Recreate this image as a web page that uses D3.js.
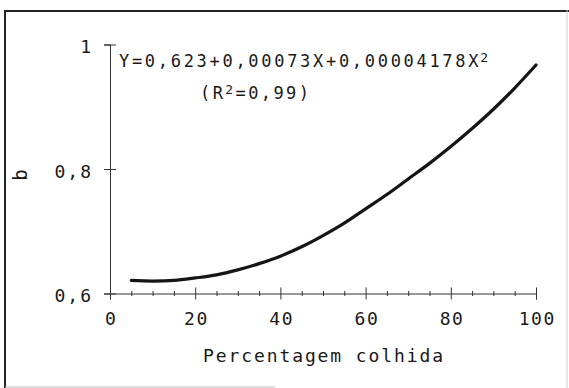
<!DOCTYPE html>
<html>
<head>
<meta charset="utf-8">
<script src="https://cdn.jsdelivr.net/npm/d3@7"></script>
<style>
  html, body { margin: 0; padding: 0; background: #fff; }
  svg { display: block; }
  text { font-family: "DejaVu Sans Mono", monospace; fill: #1a1a1a; }
</style>
</head>
<body>
<svg id="chart" width="569" height="388"></svg>
<script>
// ── data ─────────────────────────────────────────────────────────────────
const harvestPct = [5, 10, 15, 20, 25, 30, 35, 40, 45, 50, 55, 60, 65, 70, 75, 80, 85, 90, 95, 100];
const bValues    = [0.621, 0.620, 0.621, 0.625, 0.630, 0.638, 0.648, 0.660, 0.675, 0.693,
                    0.713, 0.736, 0.759, 0.784, 0.809, 0.836, 0.865, 0.896, 0.930, 0.967];

const xMajorTicks = [0, 20, 40, 60, 80, 100];
const xMinorTicks = [5, 10, 15, 25, 30, 35, 45, 50, 55, 65, 70, 75, 85, 90, 95];
const yTicks      = [0.6, 0.8, 1];
const yTickLabels = ['0,6', '0,8', '1'];

const equationText = 'Y=0,623+0,00073X+0,00004178X';
const r2Text       = '(R²=0,99)';
const xTitle       = 'Percentagem colhida';
const yTitle       = 'b';

// ─────────────────────────────────────────────────────────────────────────

const svg = d3.select('#chart');
const W = 569, H = 388;
const FONT = '"DejaVu Sans Mono", monospace';

const x = d3.scaleLinear().domain([0, 100]).range([110, 536]);
const y = d3.scaleLinear().domain([0.6, 1]).range([293.5, 44.5]);

// outer frame (scanned figure border)
const frame = svg.append('g');
frame.append('line').attr('x1', 4).attr('x2', W).attr('y1', 11).attr('y2', 11)
  .attr('stroke', '#222').attr('stroke-width', 2);
frame.append('line').attr('x1', 5).attr('x2', 5).attr('y1', 10).attr('y2', H)
  .attr('stroke', '#222').attr('stroke-width', 2);
frame.append('line').attr('x1', 567).attr('x2', 567).attr('y1', 10).attr('y2', H)
  .attr('stroke', '#ccc').attr('stroke-width', 1);
frame.append('line').attr('x1', 5).attr('x2', 275).attr('y1', 387).attr('y2', 387)
  .attr('stroke', '#bbb').attr('stroke-width', 1);

// x axis
const xAxisG = svg.append('g')
  .attr('transform', `translate(0,${y(0.6)})`)
  .call(d3.axisBottom(x).tickValues(xMajorTicks).tickSizeOuter(0).tickSize(6).tickPadding(13)
    .tickFormat(d3.format('d')));
xAxisG.select('.domain').attr('stroke', '#333');
xAxisG.selectAll('.tick line').attr('y1', -6).attr('y2', 6).attr('stroke', '#333');
xAxisG.selectAll('.tick text')
  .attr('font-size', 18).attr('letter-spacing', 1.6).attr('dx', 0.8)
  .attr('font-family', FONT).attr('fill', '#1a1a1a');

const xMinorG = svg.append('g')
  .attr('transform', `translate(0,${y(0.6)})`)
  .call(d3.axisBottom(x).tickValues(xMinorTicks).tickSizeOuter(0).tickFormat(''));
xMinorG.select('.domain').remove();
xMinorG.selectAll('.tick line').attr('y1', -2.5).attr('y2', 2.5).attr('stroke', '#333');

// y axis
const yAxisG = svg.append('g')
  .attr('transform', `translate(${x(0)},0)`)
  .call(d3.axisLeft(y).tickValues(yTicks).tickSizeOuter(0).tickSize(6).tickPadding(11)
    .tickFormat((d, i) => yTickLabels[i]));
yAxisG.select('.domain').attr('stroke', '#333');
yAxisG.selectAll('.tick line').attr('x1', -6).attr('x2', 6).attr('stroke', '#333');
yAxisG.selectAll('.tick text')
  .attr('font-size', 18).attr('letter-spacing', 2).attr('dy', '0.45em')
  .attr('font-family', FONT).attr('fill', '#1a1a1a');

// fitted curve
const line = d3.line()
  .x((d, i) => x(harvestPct[i]))
  .y(d => y(d))
  .curve(d3.curveCatmullRom);

svg.append('path')
  .datum(bValues)
  .attr('d', line)
  .attr('fill', 'none')
  .attr('stroke', '#151515')
  .attr('stroke-width', 3.2)
  .attr('stroke-linecap', 'round');

// regression equation
const eq = svg.append('text')
  .attr('x', 119).attr('y', 67)
  .attr('font-size', 17).attr('letter-spacing', 2.7);
eq.append('tspan').text(equationText);
eq.append('tspan').attr('font-size', 13).attr('dy', -5).attr('dx', -1).text('2');

const r2 = svg.append('text')
  .attr('x', 200).attr('y', 99)
  .attr('font-size', 17).attr('letter-spacing', 2.4);
r2.append('tspan').text('(R');
r2.append('tspan').attr('font-size', 13).attr('dy', -5).text('2');
r2.append('tspan').attr('dy', 5).text('=0,99)');

// axis titles
svg.append('text')
  .attr('x', (x(0) + x(100)) / 2 + 1).attr('y', 362)
  .attr('text-anchor', 'middle')
  .attr('font-size', 18).attr('letter-spacing', 1.9)
  .text(xTitle);

svg.append('text')
  .attr('transform', 'translate(27,175) rotate(-90)')
  .attr('text-anchor', 'middle')
  .attr('font-size', 19)
  .text(yTitle);
</script>
</body>
</html>
